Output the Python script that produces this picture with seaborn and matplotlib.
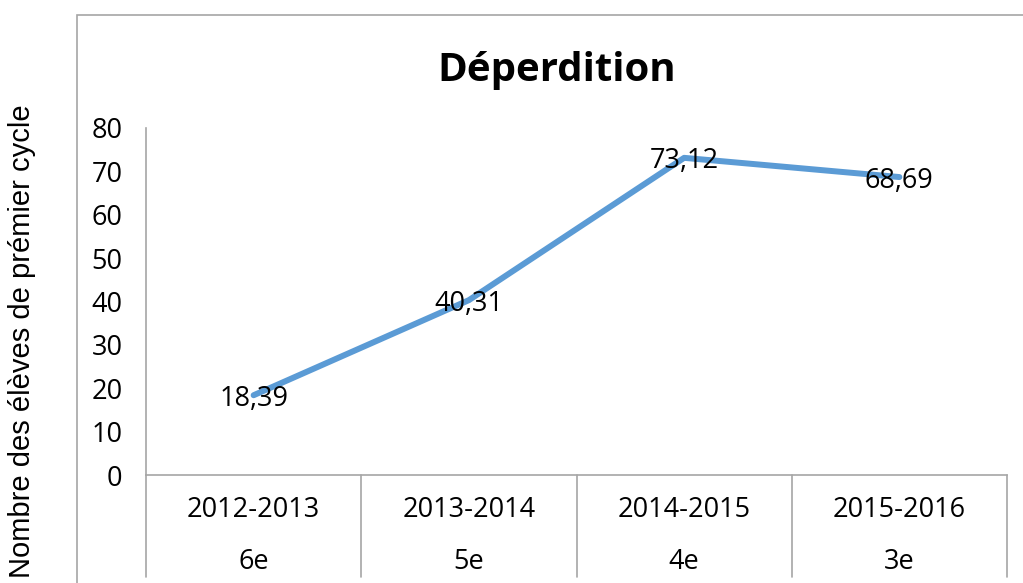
import matplotlib
matplotlib.use("Agg")
import matplotlib.pyplot as plt
import matplotlib.transforms as mtransforms
from matplotlib.patches import Rectangle
import seaborn as sns
import pandas as pd

years = ["2012-2013", "2013-2014", "2014-2015", "2015-2016"]
levels = ["6e", "5e", "4e", "3e"]
values = [18.39, 40.31, 73.12, 68.69]
value_labels = ["18,39", "40,31", "73,12", "68,69"]

sns.set_theme(style="white")
plt.rcParams['font.family'] = ['Open Sans', 'DejaVu Sans']

W, H = 1023, 583
FS = 19.5
fig = plt.figure(figsize=(W / 100, H / 100), dpi=100)
fig.patch.set_facecolor("white")

# outer chart border
fig.add_artist(Rectangle((77 / W, -0.1), 1.2, 1 - 15 / H + 0.1, transform=fig.transFigure,
                         fill=False, edgecolor="#a6a6a6", linewidth=1.2))

ax = fig.add_axes([146 / W, 1 - 475 / H, (1007 - 146) / W, (475 - 128) / H])
df = pd.DataFrame({"x": list(range(len(years))), "y": values})
sns.lineplot(data=df, x="x", y="y", ax=ax, color="#5b9bd5", linewidth=4.3,
             solid_capstyle="round", solid_joinstyle="round")

ax.set_xlim(-0.5, len(years) - 0.5)
ax.set_ylim(0, 80)
ax.set_yticks(range(0, 81, 10))
ax.tick_params(axis="y", length=0, pad=17, labelsize=FS, labelcolor="black")
ax.set_xticks([])
ax.set_xlabel("")
ax.set_ylabel("")
for s in ["top", "right"]:
    ax.spines[s].set_visible(False)
for s in ["left", "bottom"]:
    ax.spines[s].set_color("#a6a6a6")
    ax.spines[s].set_linewidth(1.2)

# category separators and two-level labels
trans = mtransforms.blended_transform_factory(ax.transData, ax.transAxes)
sep_bottom = -(577 - 475) / (475 - 128)
for i in range(len(years) + 1):
    ax.plot([i - 0.5, i - 0.5], [0, sep_bottom], transform=trans, color="#a6a6a6",
            linewidth=1.2, clip_on=False)
row1 = -(510 - 475) / (475 - 128)
row2 = -(562 - 475) / (475 - 128)
for i, (yr, lv) in enumerate(zip(years, levels)):
    ax.text(i, row1, yr, transform=trans, ha="center", va="center", fontsize=FS, color="black")
    ax.text(i, row2, lv, transform=trans, ha="center", va="center", fontsize=FS, color="black")

# data labels
for i, (v, lab) in enumerate(zip(values, value_labels)):
    ax.text(i, v, lab, ha="center", va="center_baseline", fontsize=FS, color="black")

fig.text(557 / W, 1 - 71 / H, "Déperdition", ha="center", va="center",
         fontsize=29, fontweight="bold", color="black")
fig.text(22 / W, 1 - 341 / H, "Nombre des élèves de prémier cycle", rotation=90,
         ha="center", va="center", fontsize=21, color="black",
         family=["Liberation Sans", "DejaVu Sans"])

fig.savefig("out.png", dpi=100)
